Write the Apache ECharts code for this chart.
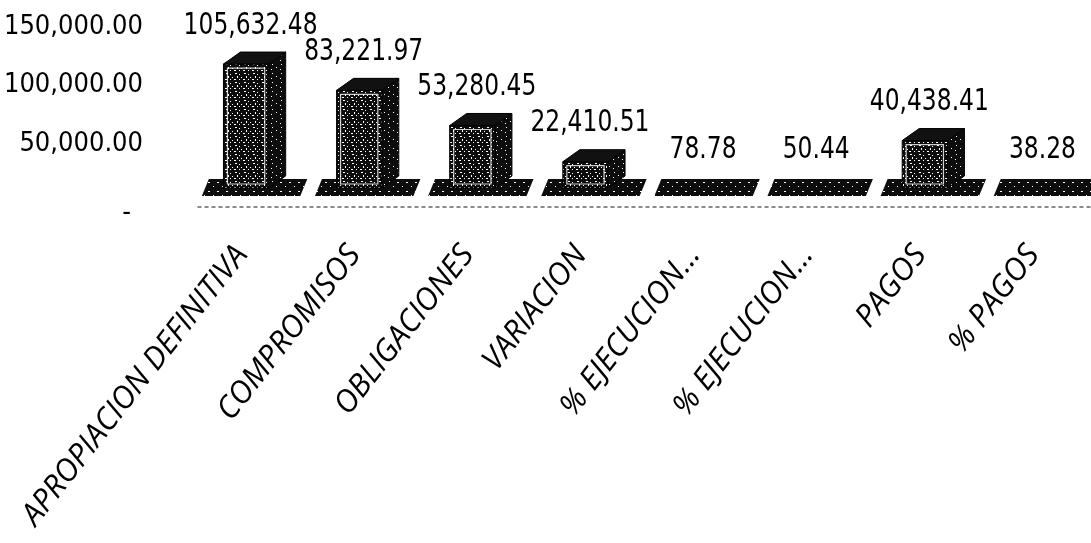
<!DOCTYPE html>
<html>
<head>
<meta charset="utf-8">
<script src="https://cdn.jsdelivr.net/npm/echarts@6/dist/echarts.min.js"></script>
<style>
  html, body { margin: 0; padding: 0; background: #fff; }
  #chart { width: 1091px; height: 543px; }
</style>
</head>
<body>
<div id="chart"></div>
<script>
const categories = ['APROPIACION DEFINITIVA', 'COMPROMISOS', 'OBLIGACIONES', 'VARIACION', '% EJECUCION…', '% EJECUCION…', 'PAGOS', '% PAGOS'];
const values = [105632.48, 83221.97, 53280.45, 22410.51, 78.78, 50.44, 40438.41, 38.28];
const yMin = 0, yMax = 150000, yInterval = 50000;

const FONT = '"Liberation Sans Narrow", "DejaVu Sans Condensed", "Noto Sans", sans-serif';
const FONT_ITALIC = '"Open Sans", "Noto Sans", "Liberation Sans", sans-serif';

function fmt(v) {
  return v.toLocaleString('en-US', { minimumFractionDigits: 2, maximumFractionDigits: 2 });
}

// speckled texture (deterministic)
function makePattern(bg, pts) {
  const c = document.createElement('canvas');
  c.width = 9; c.height = 9;
  const g = c.getContext('2d');
  g.fillStyle = bg; g.fillRect(0, 0, 9, 9);
  g.fillStyle = '#fff';
  pts.forEach(p => g.fillRect(p[0], p[1], p[2] || 1, p[3] || 1));
  return { image: c, repeat: 'repeat' };
}
const speckle = makePattern('#0d0d0d', [[1,1,2,1],[5,2],[3,4,1,2],[7,5],[0,7,2,1],[5,7]]);
const speckleSide = makePattern('#0d0d0d', [[2,1],[6,4],[1,6]]);
const speckleFloor = makePattern('#0d0d0d', [[1,2,2,1],[6,6]]);

function renderItem(params, api) {
  const idx = api.value(0);
  const val = api.value(1);
  const base = api.coord([idx, 0]);
  const top = api.coord([idx, val]);
  const band = api.size([1, 0])[0];
  const cx = base[0];
  const fw = band * 0.40, dx = band * 0.15, dy = 12;
  const left = cx - (fw + dx) / 2;
  const right = left + fw;
  const backTop = top[1];
  const frontTop = backTop + dy;
  const frontBot = base[1] + dy;
  const children = [];
  // floor slab
  const fW = band * 0.87, fy0 = base[1] + 3, fy1 = base[1] + 20, sh = 3.5;
  children.push({
    type: 'polygon',
    shape: { points: [[cx - fW / 2 + sh, fy0], [cx + fW / 2 + sh, fy0], [cx + fW / 2 - sh, fy1], [cx - fW / 2 - sh, fy1]] },
    style: { fill: speckleFloor }
  });
  if (frontBot - frontTop > 2) {
    children.push({
      type: 'polygon',
      shape: { points: [[right, frontTop], [right + dx, backTop], [right + dx, frontBot - dy], [right, frontBot]] },
      style: { fill: speckleSide, stroke: '#000', lineWidth: 1 }
    });
    children.push({
      type: 'rect',
      shape: { x: left, y: frontTop, width: fw, height: frontBot - frontTop },
      style: { fill: speckle, stroke: '#000', lineWidth: 1 }
    });
    if (frontBot - frontTop > 14) {
      children.push({
        type: 'rect',
        shape: { x: left + 4, y: frontTop + 4, width: fw - 8, height: frontBot - frontTop - 8 },
        style: { fill: null, stroke: '#fff', lineWidth: 1.2, opacity: 0.8 }
      });
    }
    children.push({
      type: 'polygon',
      shape: { points: [[left, frontTop], [right, frontTop], [right + dx, backTop], [left + dx, backTop]] },
      style: { fill: '#111', stroke: '#000', lineWidth: 1 }
    });
  }
  children.push({
    type: 'text',
    x: cx - 4,
    y: Math.min(backTop, base[1]) - 26,
    scaleY: 1.15,
    style: {
      text: fmt(val),
      x: 0,
      y: 0,
      align: 'center',
      verticalAlign: 'middle',
      fontSize: 26,
      fontFamily: FONT,
      fill: '#000'
    }
  });
  return { type: 'group', children: children };
}

const chart = echarts.init(document.getElementById('chart'), null, { renderer: 'canvas' });
chart.setOption({
  backgroundColor: '#fff',
  animation: false,
  grid: { left: 198, right: -12, top: 0, bottom: 367, containLabel: false, outerBoundsMode: 'none' },
  xAxis: {
    type: 'category',
    data: categories,
    boundaryGap: true,
    offset: 31,
    axisLine: { show: true, onZero: false, lineStyle: { color: '#666', width: 1.5, type: [3, 4] } },
    axisTick: { show: false },
    axisLabel: {
      rotate: 52,
      interval: 0,
      margin: 26,
      fontSize: 31,
      fontStyle: 'italic',
      fontFamily: FONT_ITALIC,
      color: '#000',
      formatter: v => '{c|' + v + '}',
      rich: {
        c: {
          fontSize: 31,
          fontStyle: 'italic',
          fontFamily: FONT_ITALIC,
          color: '#000',
          padding: [0, 21, 0, 0]
        }
      }
    }
  },
  yAxis: {
    type: 'value',
    min: yMin,
    max: yMax,
    interval: yInterval,
    axisLine: { show: false },
    axisTick: { show: false },
    splitLine: { show: false },
    axisLabel: {
      margin: 55,
      fontSize: 27,
      fontFamily: FONT,
      color: '#000',
      verticalAlign: 'top',
      padding: [13, 0, 0, 0],
      formatter: v => (v === 0 ? '{z|-}' : fmt(v)),
      rich: {
        z: { fontSize: 27, fontFamily: FONT, color: '#000', padding: [10, 12, 0, 0] }
      }
    }
  },
  series: [{
    type: 'custom',
    renderItem: renderItem,
    clip: false,
    encode: { x: 0, y: 1 },
    data: values.map((v, i) => [i, v])
  }]
});
</script>
</body>
</html>
